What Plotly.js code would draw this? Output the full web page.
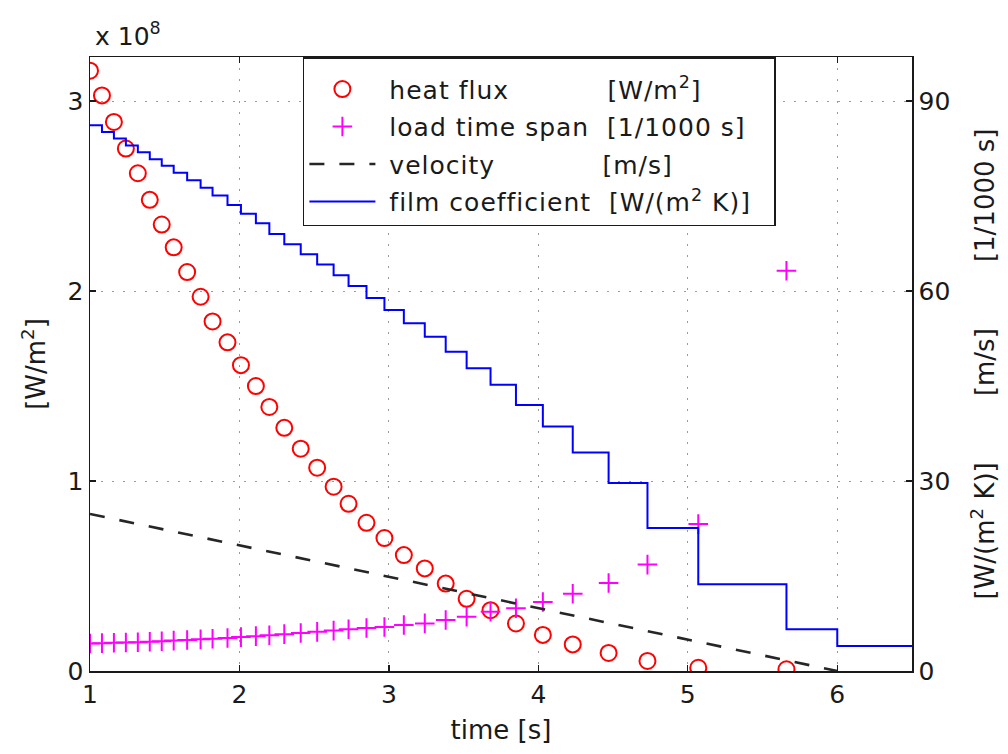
<!DOCTYPE html>
<html>
<head>
<meta charset="utf-8">
<script src="https://cdn.plot.ly/plotly-3.0.1.min.js"></script>
<style>
  html, body { margin: 0; padding: 0; background: #fff; }
  #chart { width: 1008px; height: 754px; }
  .legendtext { letter-spacing: 1px; }
</style>
</head>
<body>
<div id="chart"></div>
<script>
// ---- data ----
// sample times [s]
const time = [1.00, 1.08, 1.16, 1.24, 1.32, 1.40, 1.48, 1.56, 1.65, 1.74,
              1.82, 1.92, 2.01, 2.11, 2.20, 2.30, 2.41, 2.52, 2.63, 2.73,
              2.85, 2.97, 3.10, 3.24, 3.38, 3.52, 3.68, 3.85, 4.03, 4.23,
              4.47, 4.73, 5.07, 5.66];
// heat flux [W/m^2]
const heatFlux = [3.16e8, 3.03e8, 2.89e8, 2.75e8, 2.62e8, 2.48e8, 2.35e8, 2.23e8, 2.10e8, 1.97e8,
                  1.84e8, 1.73e8, 1.61e8, 1.50e8, 1.39e8, 1.28e8, 1.17e8, 1.07e8, 0.97e8, 0.88e8,
                  0.78e8, 0.70e8, 0.61e8, 0.54e8, 0.46e8, 0.38e8, 0.32e8, 0.25e8, 0.19e8, 0.14e8,
                  0.095e8, 0.053e8, 0.017e8, 0.009e8];
// load time span [1/1000 s]
const loadSpan = [4.35, 4.40, 4.45, 4.50, 4.55, 4.62, 4.70, 4.80, 4.90, 5.00,
                  5.10, 5.22, 5.35, 5.50, 5.65, 5.82, 6.00, 6.18, 6.38, 6.60,
                  6.80, 6.95, 7.26, 7.52, 8.05, 8.58, 9.37, 9.90, 10.9, 12.2,
                  13.9, 16.8, 23.2, 63.2];
// velocity [m/s]
const velTime = [1.0, 6.0];
const velocity = [24.8, 0.0];
// film coefficient [W/(m^2 K)] (step function, value holds until next time)
const filmTime = [1.00, 1.08, 1.16, 1.24, 1.32, 1.40, 1.48, 1.56, 1.65, 1.74,
                  1.82, 1.92, 2.01, 2.11, 2.20, 2.30, 2.41, 2.52, 2.63, 2.73,
                  2.85, 2.97, 3.10, 3.24, 3.38, 3.52, 3.68, 3.85, 4.03, 4.23,
                  4.47, 4.73, 5.07, 5.66, 6.00, 6.50];
const filmCoef = [86.2, 85.1, 84.1, 83.0, 81.9, 80.8, 79.8, 78.7, 77.5, 76.3,
                  75.1, 73.6, 72.2, 70.7, 69.0, 67.4, 65.8, 64.2, 62.5, 60.8,
                  58.9, 57.0, 54.9, 52.8, 50.4, 47.8, 45.2, 42.0, 38.6, 34.5,
                  29.7, 22.6, 13.7, 6.6, 3.95, 3.95];
// axis ticks
const xTicks = [1, 2, 3, 4, 5, 6];
const yTickVals = [0, 1e8, 2e8, 3e8];
const yTickText = ['0', '1', '2', '3'];
const y2Ticks = [0, 30, 60, 90];

const NB = '\u00A0';
const pad = n => NB.repeat(n);

const FONT = 'DejaVu Sans';
const INK = '#1a1a1a';

const traces = [
  {
    x: time, y: heatFlux, yaxis: 'y', type: 'scatter', mode: 'markers',
    legendgroup: 'a',
    name: NB + 'heat flux' + pad(11) + '[W/m<sup>2</sup>]',
    marker: {symbol: 'circle-open', size: 16, color: '#ff0000', line: {width: 2, color: '#ff0000'}}
  },
  {
    x: time, y: loadSpan, yaxis: 'y2', type: 'scatter', mode: 'markers',
    legendgroup: 'b',
    name: NB + 'load time span' + pad(2) + '[1/1000 s]',
    marker: {symbol: 'cross-thin-open', size: 14, color: '#ff00ff', line: {width: 2, color: '#ff00ff'}}
  },
  {
    x: velTime, y: velocity, yaxis: 'y2', type: 'scatter', mode: 'lines',
    legendgroup: 'c',
    name: NB + 'velocity' + pad(12) + '[m/s]',
    line: {color: '#262626', width: 2.6, dash: '15px,15px'}
  },
  {
    x: filmTime, y: filmCoef, yaxis: 'y2', type: 'scatter', mode: 'lines',
    legendgroup: 'd',
    name: NB + 'film coefficient' + pad(2) + '[W/(m<sup>2</sup> K)]' + pad(2),
    line: {color: '#0000ff', width: 2, shape: 'hv'}
  }
];

const gridStyle = {showgrid: true, gridcolor: '#9a9a9a', gridwidth: 1, griddash: '2px,9px'};

const layout = {
  width: 1008, height: 754,
  margin: {l: 90, r: 96, t: 57, b: 83, pad: 0},
  paper_bgcolor: '#fff', plot_bgcolor: '#fff',
  font: {family: FONT, size: 25, color: INK},
  showlegend: true,
  legend: {
    x: 0.259, y: 1, xanchor: 'left', yanchor: 'top',
    bgcolor: '#fff', bordercolor: INK, borderwidth: 1.5,
    font: {family: FONT, size: 25, color: INK},
    itemwidth: 66, tracegroupgap: 2,
    title: {text: NB, font: {family: FONT, size: 6, color: INK}}
  },
  xaxis: Object.assign({
    range: [1, 6.5], tickmode: 'array', tickvals: xTicks,
    ticks: 'inside', ticklen: 6, tickwidth: 1.2, tickcolor: INK,
    showline: true, linecolor: INK, linewidth: 1.5, mirror: 'ticks',
    zeroline: false, tickfont: {family: FONT, size: 25, color: INK},
    title: {text: 'time [s]', font: {family: FONT, size: 26, color: INK}, standoff: 13}
  }, gridStyle),
  yaxis: Object.assign({
    range: [0, 3.232e8], tickmode: 'array', tickvals: yTickVals, ticktext: yTickText,
    ticks: 'inside', ticklen: 6, tickwidth: 1.2, tickcolor: INK,
    showline: true, linecolor: INK, linewidth: 1.5, mirror: false,
    zeroline: false, tickfont: {family: FONT, size: 25, color: INK},
    title: {text: '[W/m<sup>2</sup>]', font: {family: FONT, size: 26, color: INK}, standoff: 14}
  }, gridStyle),
  yaxis2: {
    overlaying: 'y', side: 'right', anchor: 'x',
    range: [0, 96.96], tickmode: 'array', tickvals: y2Ticks,
    ticks: 'inside', ticklen: 6, tickwidth: 1.2, tickcolor: INK,
    showline: true, linecolor: INK, linewidth: 1.5,
    showgrid: false, zeroline: false,
    tickfont: {family: FONT, size: 25, color: INK},
    title: {text: '[W/(m<sup>2</sup> K)]' + pad(8) + '[m/s]' + pad(8) + '[1/1000 s]',
            font: {family: FONT, size: 26, color: INK}, standoff: 26}
  },
  annotations: [
    {xref: 'paper', yref: 'paper', x: 0.004, y: 1.0, xanchor: 'left', yanchor: 'bottom',
     yshift: 4, showarrow: false, text: 'x 10<sup>8</sup>',
     font: {family: FONT, size: 25, color: INK}}
  ]
};

Plotly.newPlot('chart', traces, layout, {displayModeBar: false, staticPlot: true});
</script>
</body>
</html>
